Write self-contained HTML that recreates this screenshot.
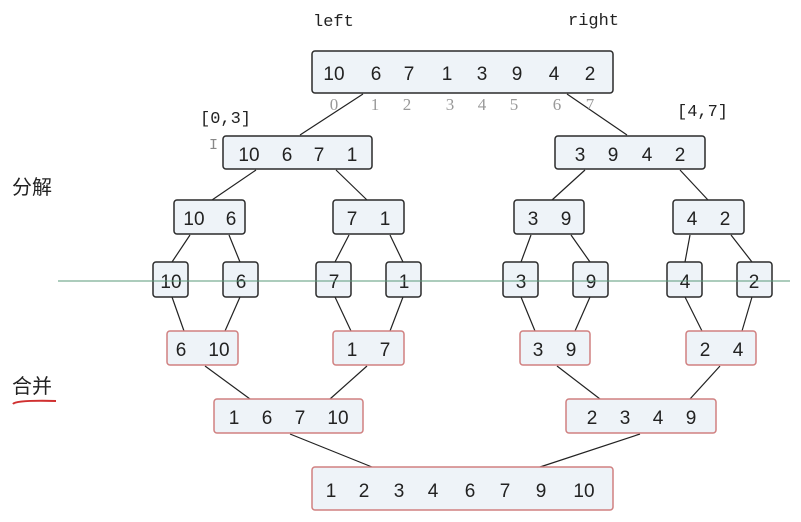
<!DOCTYPE html>
<html><head><style>
html,body{margin:0;padding:0;background:#fff;}
svg{display:block;}
.b{fill:#eef3f8;stroke:#2a2a2a;stroke-width:1.5;}
.r{fill:#eef3f8;stroke:#d08080;stroke-width:1.5;}
.t{font-family:"Liberation Sans","DejaVu Sans",sans-serif;font-size:19px;fill:#222;text-anchor:middle;}
.g{font-family:"Liberation Serif",serif;font-size:17px;fill:#999;text-anchor:middle;}
.m{font-family:"Liberation Mono",monospace;font-size:17px;fill:#222;}
.c{font-family:"Liberation Sans","Noto Sans CJK SC",sans-serif;font-size:20px;fill:#222;}
line{stroke:#222;stroke-width:1.2;}
</style></head><body>
<svg width="801" height="522" viewBox="0 0 801 522" xmlns="http://www.w3.org/2000/svg">
<text class="m" x="313" y="26">left</text>
<text class="m" x="568" y="25">right</text>
<text class="m" x="200" y="123">[0,3]</text>
<text class="m" x="677" y="116">[4,7]</text>
<text class="m" x="209" y="149" style="fill:#888;font-size:15px">I</text>
<text class="c" x="12" y="194">分解</text>
<text class="c" x="12" y="393">合并</text>
<path d="M13 404 Q16 400 56 401" stroke="#d03030" stroke-width="2" fill="none"/>
<!-- connectors -->
<line x1="363" y1="94" x2="300" y2="135"/><line x1="567" y1="94" x2="627" y2="135"/>
<line x1="256" y1="170" x2="212" y2="200"/><line x1="336" y1="170" x2="367" y2="200"/>
<line x1="585" y1="170" x2="552" y2="200"/><line x1="680" y1="170" x2="708" y2="200"/>
<line x1="190" y1="235" x2="172" y2="262"/><line x1="229" y1="235" x2="240" y2="262"/>
<line x1="349" y1="235" x2="335" y2="262"/><line x1="390" y1="235" x2="403" y2="262"/>
<line x1="531" y1="235" x2="521" y2="262"/><line x1="571" y1="235" x2="590" y2="262"/>
<line x1="690" y1="235" x2="685" y2="262"/><line x1="731" y1="235" x2="752" y2="262"/>
<line x1="172" y1="297" x2="184" y2="331"/><line x1="240" y1="297" x2="225" y2="331"/>
<line x1="335" y1="297" x2="351" y2="331"/><line x1="403" y1="297" x2="390" y2="331"/>
<line x1="521" y1="297" x2="535" y2="331"/><line x1="590" y1="297" x2="575" y2="331"/>
<line x1="685" y1="297" x2="702" y2="331"/><line x1="752" y1="297" x2="742" y2="331"/>
<line x1="205" y1="366" x2="250" y2="399"/><line x1="367" y1="366" x2="330" y2="399"/>
<line x1="557" y1="366" x2="600" y2="399"/><line x1="720" y1="366" x2="690" y2="399"/>
<line x1="290" y1="434" x2="372" y2="467"/><line x1="640" y1="434" x2="540" y2="467"/>
<!-- top -->
<rect class="b" x="312" y="51" width="301" height="42" rx="3"/>
<g class="t"><text x="334" y="80">10</text><text x="376" y="80">6</text><text x="409" y="80">7</text><text x="447" y="80">1</text><text x="482" y="80">3</text><text x="517" y="80">9</text><text x="554" y="80">4</text><text x="590" y="80">2</text></g>
<g class="g"><text x="334" y="110">0</text><text x="375" y="110">1</text><text x="407" y="110">2</text><text x="450" y="110">3</text><text x="482" y="110">4</text><text x="514" y="110">5</text><text x="557" y="110">6</text><text x="590" y="110">7</text></g>
<!-- level1 -->
<rect class="b" x="223" y="136" width="149" height="33" rx="3"/>
<g class="t"><text x="249" y="161">10</text><text x="287" y="161">6</text><text x="319" y="161">7</text><text x="352" y="161">1</text></g>
<rect class="b" x="555" y="136" width="150" height="33" rx="3"/>
<g class="t"><text x="580" y="161">3</text><text x="613" y="161">9</text><text x="647" y="161">4</text><text x="680" y="161">2</text></g>
<!-- level2 -->
<rect class="b" x="174" y="200" width="71" height="34" rx="3"/>
<rect class="b" x="333" y="200" width="71" height="34" rx="3"/>
<rect class="b" x="514" y="200" width="70" height="34" rx="3"/>
<rect class="b" x="673" y="200" width="71" height="34" rx="3"/>
<g class="t"><text x="194" y="225">10</text><text x="231" y="225">6</text><text x="352" y="225">7</text><text x="385" y="225">1</text><text x="533" y="225">3</text><text x="566" y="225">9</text><text x="692" y="225">4</text><text x="725" y="225">2</text></g>
<!-- level3 -->
<rect class="b" x="153" y="262" width="35" height="35" rx="3"/>
<rect class="b" x="223" y="262" width="35" height="35" rx="3"/>
<rect class="b" x="316" y="262" width="35" height="35" rx="3"/>
<rect class="b" x="386" y="262" width="35" height="35" rx="3"/>
<rect class="b" x="503" y="262" width="35" height="35" rx="3"/>
<rect class="b" x="573" y="262" width="35" height="35" rx="3"/>
<rect class="b" x="667" y="262" width="35" height="35" rx="3"/>
<rect class="b" x="737" y="262" width="35" height="35" rx="3"/>
<g class="t"><text x="171" y="288">10</text><text x="241" y="288">6</text><text x="334" y="288">7</text><text x="404" y="288">1</text><text x="521" y="288">3</text><text x="591" y="288">9</text><text x="685" y="288">4</text><text x="754" y="288">2</text></g>
<line x1="58" y1="281" x2="790" y2="281" style="stroke:#5a9a7a;stroke-width:1"/>
<!-- level4 -->
<rect class="r" x="167" y="331" width="71" height="34" rx="3"/>
<rect class="r" x="333" y="331" width="71" height="34" rx="3"/>
<rect class="r" x="520" y="331" width="70" height="34" rx="3"/>
<rect class="r" x="686" y="331" width="70" height="34" rx="3"/>
<g class="t"><text x="181" y="356">6</text><text x="219" y="356">10</text><text x="352" y="356">1</text><text x="385" y="356">7</text><text x="538" y="356">3</text><text x="571" y="356">9</text><text x="705" y="356">2</text><text x="738" y="356">4</text></g>
<!-- level5 -->
<rect class="r" x="214" y="399" width="149" height="34" rx="3"/>
<g class="t"><text x="234" y="424">1</text><text x="267" y="424">6</text><text x="300" y="424">7</text><text x="338" y="424">10</text></g>
<rect class="r" x="566" y="399" width="150" height="34" rx="3"/>
<g class="t"><text x="592" y="424">2</text><text x="625" y="424">3</text><text x="658" y="424">4</text><text x="691" y="424">9</text></g>
<!-- level6 -->
<rect class="r" x="312" y="467" width="301" height="43" rx="3"/>
<g class="t"><text x="331" y="497">1</text><text x="364" y="497">2</text><text x="399" y="497">3</text><text x="433" y="497">4</text><text x="470" y="497">6</text><text x="505" y="497">7</text><text x="541" y="497">9</text><text x="584" y="497">10</text></g>
</svg>
</body></html>
